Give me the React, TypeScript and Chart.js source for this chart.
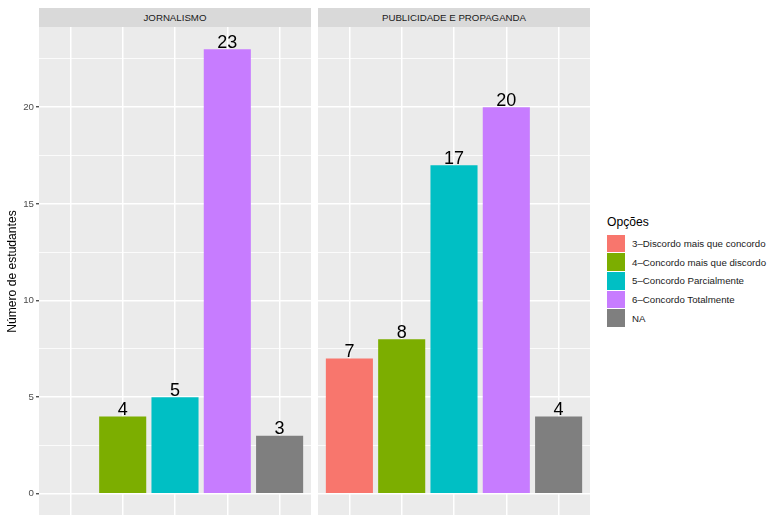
import React, { useEffect, useRef } from "react";
import { Chart, registerables } from "chart.js";

Chart.register(...registerables);

const categories = [
  "3–Discordo mais que concordo",
  "4–Concordo mais que discordo",
  "5–Concordo Parcialmente",
  "6–Concordo Totalmente",
  "NA",
];
const colors = ["#F8766D", "#7CAE00", "#00BFC4", "#C77CFF", "#7F7F7F"];
const panels = ["JORNALISMO", "PUBLICIDADE E PROPAGANDA"];
const jornalismo: (number | null)[] = [null, 4, 5, 23, 3];
const publicidade: (number | null)[] = [7, 8, 17, 20, 4];
const yMajor = [0, 5, 10, 15, 20];
const yMinor = [2.5, 7.5, 12.5, 17.5, 22.5];
const yTitle = "Número de estudantes";
const legendTitle = "Opções";

const FONT = "'Liberation Sans', Arial, Helvetica, sans-serif";

const panelBg = {
  id: "panelBg",
  beforeDraw(chart: any) {
    const { ctx, chartArea } = chart;
    ctx.save();
    ctx.fillStyle = "#EBEBEB";
    ctx.fillRect(chartArea.left, chartArea.top, chartArea.right - chartArea.left, chartArea.bottom - chartArea.top);
    ctx.restore();
  },
};

const barLabels = {
  id: "barLabels",
  afterDatasetsDraw(chart: any) {
    const { ctx } = chart;
    ctx.save();
    ctx.font = `18px ${FONT}`;
    ctx.fillStyle = "#000000";
    ctx.textAlign = "center";
    ctx.textBaseline = "alphabetic";
    chart.data.datasets.forEach((ds: any, di: number) => {
      const meta = chart.getDatasetMeta(di);
      meta.data.forEach((el: any, i: number) => {
        const raw = ds.data[i];
        if (!raw || raw.y == null) return;
        ctx.fillText(String(raw.y), el.x, el.y - 1.5);
      });
    });
    ctx.restore();
  },
};

function makeConfig(values: (number | null)[], showAxis: boolean): any {
  const data = values
    .map((v, i) => (v == null ? null : { x: i + 1, y: v }))
    .filter((d) => d !== null);
  return {
    type: "bar",
    data: {
      datasets: [
        {
          data,
          backgroundColor: (c: any) => (c.raw ? colors[c.raw.x - 1] : "#000"),
          borderWidth: 0,
          barPercentage: 0.9,
          categoryPercentage: 1,
          grouped: false,
        },
      ],
    },
    options: {
      animation: false,
      responsive: false,
      maintainAspectRatio: false,
      layout: { padding: 0 },
      plugins: { legend: { display: false }, tooltip: { enabled: false }, title: { display: false } },
      scales: {
        x: {
          type: "linear",
          min: 0.4,
          max: 5.6,
          offset: false,
          afterBuildTicks: (s: any) => {
            s.ticks = [1, 2, 3, 4, 5].map((v) => ({ value: v }));
          },
          afterFit: (s: any) => {
            s.height = 0;
            s.paddingLeft = 0;
            s.paddingRight = 0;
          },
          ticks: { display: false },
          border: { display: false },
          grid: { color: "#FFFFFF", lineWidth: 1.5, drawTicks: false, offset: false },
        },
        y: {
          type: "linear",
          min: -1.15,
          max: 24.15,
          afterBuildTicks: (s: any) => {
            s.ticks = [...yMajor, ...yMinor].sort((a, b) => a - b).map((v) => ({ value: v }));
          },
          afterFit: (s: any) => {
            s.width = showAxis ? 39 : 0;
            s.paddingTop = 0;
            s.paddingBottom = 0;
          },
          border: { display: false },
          ticks: {
            display: showAxis,
            padding: 2,
            color: "#4D4D4D",
            font: { family: FONT, size: 9.7 },
            callback: (v: any) => (yMajor.includes(v) ? String(v) : ""),
          },
          grid: {
            color: "#FFFFFF",
            lineWidth: (c: any) => (c.tick && yMajor.includes(c.tick.value) ? 1.5 : 0.8),
            drawTicks: showAxis,
            tickLength: 3,
            tickWidth: 1.2,
            tickColor: (c: any) => (c.tick && yMajor.includes(c.tick.value) ? "#333333" : "rgba(0,0,0,0)"),
          },
          title: {
            display: showAxis,
            text: yTitle,
            color: "#000000",
            font: { family: FONT, size: 12.1 },
            padding: { top: 5, bottom: 0 },
          },
        },
      },
    },
    plugins: [panelBg, barLabels],
  };
}

function Panel({ values, showAxis, left, width }: { values: (number | null)[]; showAxis: boolean; left: number; width: number }) {
  const ref = useRef<HTMLCanvasElement | null>(null);
  useEffect(() => {
    if (!ref.current) return;
    const chart = new Chart(ref.current, makeConfig(values, showAxis));
    return () => chart.destroy();
  }, []);
  return (
    <canvas
      ref={ref}
      width={width}
      height={489}
      style={{ position: "absolute", left, top: 27, width, height: 489 }}
    />
  );
}

export default function App() {
  const strip = (label: string, left: number) => (
    <div
      style={{
        position: "absolute",
        left,
        top: 8,
        width: 272,
        height: 19,
        background: "#D9D9D9",
        color: "#1A1A1A",
        fontFamily: FONT,
        fontSize: 9.7,
        lineHeight: "19px",
        textAlign: "center",
      }}
    >
      {label}
    </div>
  );
  return (
    <div
      style={{
        position: "absolute",
        left: 0,
        top: 0,
        width: 769,
        height: 515,
        overflow: "hidden",
        background: "#FFFFFF",
      }}
    >
      <Panel values={jornalismo} showAxis={true} left={0} width={311} />
      <Panel values={publicidade} showAxis={false} left={318} width={272} />
      {strip(panels[0], 39)}
      {strip(panels[1], 318)}
      <div style={{ position: "absolute", left: 607, top: 215, fontFamily: FONT, fontSize: 12.1, color: "#000", lineHeight: "15px" }}>
        {legendTitle}
      </div>
      {categories.map((c, i) => (
        <div key={c} style={{ position: "absolute", left: 607, top: 234 + i * 18.7, height: 18.7, display: "flex", alignItems: "center" }}>
          <div style={{ width: 18, height: 17.7, background: colors[i], marginRight: 7 }} />
          <span style={{ fontFamily: FONT, fontSize: 9.7, color: "#1A1A1A", whiteSpace: "nowrap" }}>{c}</span>
        </div>
      ))}
    </div>
  );
}
